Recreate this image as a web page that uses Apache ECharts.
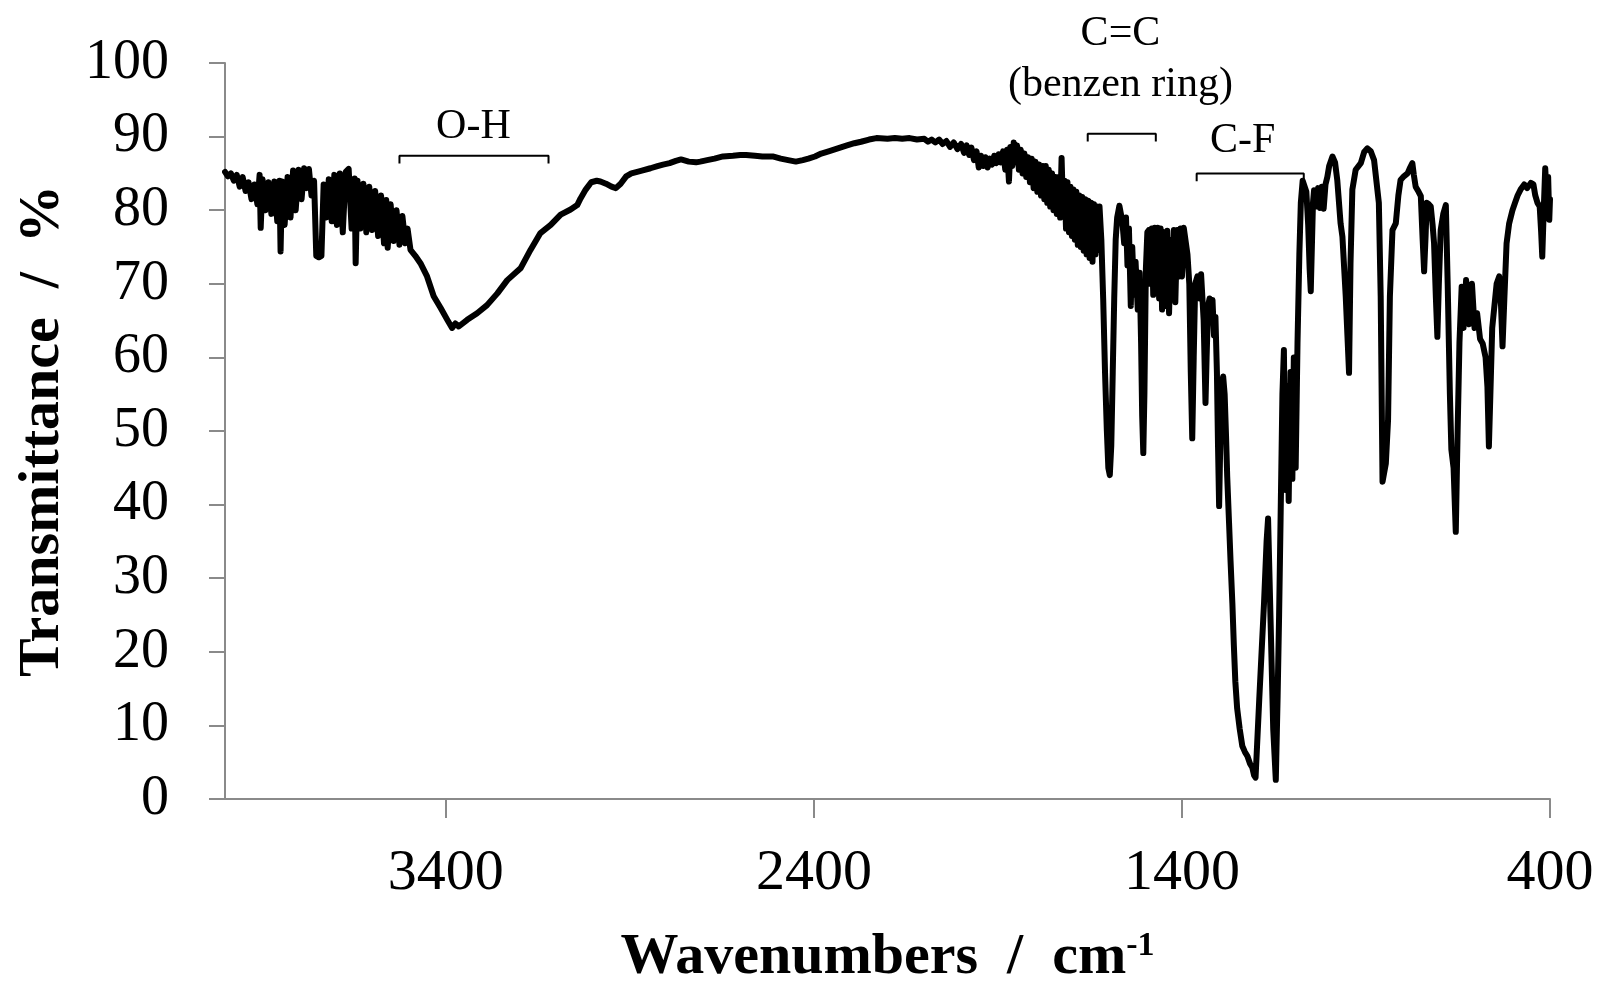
<!DOCTYPE html>
<html>
<head>
<meta charset="utf-8">
<title>FT-IR spectrum</title>
<script src="https://cdn.jsdelivr.net/npm/echarts@6/dist/echarts.min.js"></script>
<style>
  html, body { margin: 0; padding: 0; background: #fff; }
  #chart { width: 1600px; height: 981px; }
</style>
</head>
<body>
<div id="chart"></div>
<script>
  // spectrum, [wavenumber, transmittance %]
  var ohRegion = [
    [4000,85.2],[3992,84.6],[3984,85.0],[3976,84.0],[3968,84.8],[3960,83.2],[3952,84.5],[3944,82.6],
    [3936,83.8],[3928,81.5],[3920,83.5],[3912,80.8],[3906,84.8],[3903,77.6],[3898,84.2],[3890,80.0],
    [3882,83.8],[3874,79.5],[3866,83.9],[3858,78.5],[3852,84.0],[3849,74.4],[3845,83.9],[3838,78.0],
    [3830,84.5],[3822,79.0],[3815,85.4],[3808,80.0],[3800,85.5],[3792,81.5],[3785,85.7],[3778,83.0],
    [3772,85.6],[3765,82.0],[3758,84.0],[3752,73.8],[3745,73.6],[3738,73.8],[3732,83.5],[3725,79.0],
    [3718,84.2],[3710,78.5],[3703,84.8],[3696,78.0],[3688,85.0],[3680,77.0],[3672,85.2],[3664,85.6],
    [3656,77.5],[3648,84.3],[3645,72.8],[3640,84.0],[3632,77.5],[3624,83.6],[3616,77.0],[3608,83.2],
    [3600,77.3],[3592,82.6],[3584,76.5],[3576,82.0],[3568,75.5],[3562,81.4],[3558,74.9],[3550,80.8],
    [3542,75.8],[3534,80.0],[3526,75.3],[3518,79.2],[3510,75.5],[3504,77.5],[3496,74.6],[3483,73.8],
    [3469,72.8],[3451,71.0],[3433,68.3],[3414,66.7],[3396,65.1],[3383,64.0],[3374,64.6],[3365,64.2],
    [3342,65.1],[3315,66.0],[3288,67.1],[3260,68.7],[3233,70.5],[3197,72.1],[3170,74.6],[3143,76.9],
    [3115,78.0],[3088,79.4],[3061,80.1],[3043,80.7],[3034,81.6]
  ];
  var midRegion = [
    [3020,82.8],[3005,83.8],[2990,84.0],[2980,83.9],[2965,83.6],[2950,83.2],[2938,83.0],[2925,83.6],
    [2910,84.6],[2896,85.0],[2880,85.2],[2865,85.4],[2844,85.7],[2825,86.0],[2810,86.2],[2792,86.4],
    [2775,86.7],[2761,86.9],[2740,86.6],[2720,86.5],[2709,86.6],[2690,86.8],[2670,87.0],[2647,87.3],
    [2620,87.4],[2600,87.5],[2584,87.5],[2560,87.4],[2540,87.3],[2512,87.3],[2490,87.0],[2470,86.8],
    [2449,86.6],[2430,86.8],[2415,87.0],[2397,87.3],[2380,87.7],[2360,88.0],[2335,88.4],[2310,88.8],
    [2290,89.1],[2272,89.3],[2250,89.6],[2230,89.8],[2200,89.7],[2180,89.8],[2160,89.7],[2140,89.8],
    [2120,89.6],[2100,89.7],[2090,89.3],[2080,89.6],[2070,89.2],[2060,89.6],[2050,89.0],[2040,89.4],
    [2030,88.6],[2020,89.2],[2010,88.3],[2000,89.0],[1992,87.8],[1985,88.8],[1978,87.5],[1972,88.5],
    [1965,86.8],[1958,88.0],[1952,85.8],[1946,87.4],[1940,86.0],[1934,87.2],[1928,85.8],[1922,87.0],
    [1916,86.2],[1910,87.4],[1904,86.4],[1898,87.6],[1892,86.5],[1886,88.0],[1880,85.5],[1875,88.2],
    [1870,83.9],[1866,88.6],[1861,86.0],[1857,89.2],[1853,86.5],[1848,88.8],[1843,85.5],[1838,88.2],
    [1833,85.0],[1828,87.7],[1823,84.5],[1818,87.2],[1813,83.8],[1808,87.0],[1803,83.0],[1798,86.6],
    [1793,82.5],[1788,86.2],[1783,82.0],[1778,86.0],[1774,81.5]
  ];
  var fingerprintRegion = [
    [1770,86.0],[1766,81.0],[1762,85.5],[1758,80.5],[1753,85.0],[1749,80.0],[1744,84.5],[1740,79.5],
    [1735,84.5],[1731,79.0],[1727,87.1],[1723,80.0],[1719,84.0],[1715,77.5],[1711,83.8],[1707,77.0],
    [1703,83.2],[1699,76.5],[1695,82.8],[1691,76.0],[1687,82.5],[1683,75.3],[1679,82.0],[1675,75.0],
    [1671,81.8],[1667,74.5],[1663,81.5],[1659,74.0],[1655,81.3],[1651,73.5],[1647,81.0],[1643,73.0],
    [1639,80.8],[1635,74.0],[1631,80.5],[1627,74.6],[1624,80.5],[1619,76.0],[1614,68.0],[1609,58.0],
    [1604,50.0],[1600,45.0],[1596,44.0],[1592,48.0],[1588,58.0],[1584,68.0],[1580,76.0],[1576,79.0],
    [1570,80.6],[1566,80.7],[1562,78.5],[1557,75.5],[1552,79.0],[1548,72.5],[1544,77.5],[1539,67.0],
    [1535,75.0],[1530,68.5],[1526,73.0],[1520,66.5],[1515,71.5],[1511,62.0],[1508,52.0],[1505,47.0],
    [1502,55.0],[1498,72.0],[1494,77.0],[1490,77.3],[1486,70.0],[1482,77.5],[1478,68.5],[1474,77.6],
    [1470,69.5],[1466,77.6],[1462,68.0],[1458,77.5],[1454,66.5],[1449,77.0],[1445,67.0],[1440,77.2],
    [1435,66.0],[1430,76.0],[1426,69.0],[1422,77.3],[1418,67.5],[1413,77.3],[1408,71.0],[1404,77.5],
    [1400,71.0],[1395,77.6],[1390,77.6],[1385,74.0],[1380,70.0],[1376,58.0],[1372,49.0],[1368,60.0],
    [1364,70.0],[1358,71.0],[1352,68.0],[1348,71.3],[1345,71.5],[1341,65.0],[1336,53.8],[1333,60.0],
    [1329,67.0],[1325,68.0],[1320,66.0],[1317,67.8],[1313,63.0],[1309,65.5],[1305,58.0],[1302,48.0],
    [1299,39.8],[1296,48.0],[1292,56.0],[1288,57.4],[1284,55.0],[1280,49.0],[1277,43.8],[1272,37.5],
    [1268,32.4],[1263,26.6],[1259,20.9],[1255,16.0],[1250,12.3],[1243,9.5],[1236,7.2],[1229,6.4],
    [1222,5.8],[1215,4.8],[1209,4.3],[1204,3.2],[1200,2.9],[1190,13.5],[1177,26.6],[1170,35.0],
    [1166,38.1],[1159,23.8],[1152,9.5],[1145,2.6],[1140,14.0],[1136,25.0],[1132,38.1],[1127,55.0],
    [1123,61.0],[1119,42.0],[1114,56.0],[1110,40.5],[1105,58.0],[1100,43.5],[1096,60.0],[1091,45.0],
    [1086,62.0],[1081,74.0],[1077,81.0],[1072,84.0],[1068,83.8],[1062,82.5],[1057,78.0],[1053,72.0],
    [1050,69.0],[1047,75.0],[1044,81.0],[1041,82.7],[1035,80.5],[1030,83.0],[1025,80.3],[1020,83.2],
    [1015,80.2],[1010,83.5],[1005,84.5],[1000,86.0],[991,87.3],[984,86.5],[978,84.1],[969,78.2],
    [964,76.4],[955,68.3],[946,57.9],[942,72.8],[937,82.8],[928,85.5],[914,86.4],[905,87.9],
    [896,88.4],[887,88.0],[878,86.8],[865,81.0],[860,68.3],[855,43.1],[850,44.5],[846,45.6],
    [840,51.5],[835,68.3],[828,77.3],[819,78.2],[812,82.0],[806,84.1],[797,84.6],[787,85.0],
    [780,85.8],[774,86.4],[770,84.8],[765,83.2],[757,82.5],[751,81.9],[746,76.0],[742,71.7],
    [738,76.5],[735,81.0],[729,80.8],[724,80.5],[719,78.0],[715,75.5],[710,68.0],[706,62.8],
    [702,70.0],[697,77.3],[690,79.5],[683,80.7],[678,70.0],[672,55.0],[668,47.5],[662,45.0],
    [656,36.3],[651,50.0],[646,62.0],[640,69.6],[635,64.0],[628,70.5],[620,64.5],[612,70.0],
    [605,64.0],[598,66.0],[590,62.5],[583,61.9],[575,60.0],[570,56.0],[566,47.9],[562,55.0],
    [557,64.0],[552,66.5],[545,70.0],[538,71.0],[533,67.0],[529,61.5],[524,68.0],[518,75.5],
    [511,78.2],[502,80.0],[495,81.0],[488,82.0],[480,82.8],[470,83.5],[462,83.0],[452,83.7],
    [445,83.5],[440,82.0],[434,81.0],[428,80.5],[424,77.0],[421,73.7],[417,80.0],[413,85.7],
    [409,82.0],[405,84.5],[402,78.7],[400,81.5]
  ];

  var xTicks = [400, 1400, 2400, 3400];

  // band brackets: [from, to, level] in data units
  var bands = [
    { from: 3526, to: 3121, level: 87.4 },
    { from: 1656, to: 1471, level: 90.4 },
    { from: 1360, to: 1069, level: 85.0 }
  ];
  var bandLabels = [
    { name: 'O-H', wn: 3325, t: 91.3 },
    { name: 'C=C', wn: 1567, t: 104.0 },
    { name: '(benzen ring)', wn: 1567, t: 97.0 },
    { name: 'C-F', wn: 1235, t: 89.4 }
  ];

  var serif = '"Liberation Serif", "Times New Roman", serif';
  var axisGrey = '#8a8a8a';

  var spectrum = ohRegion.concat(midRegion, fingerprintRegion);

  var bracketSeries = bands.map(function (b) {
    return {
      type: 'line',
      data: [[b.from, b.level - 1.05], [b.from, b.level], [b.to, b.level], [b.to, b.level - 1.05]],
      showSymbol: false,
      silent: true,
      lineStyle: { color: '#000', width: 2 },
      z: 4
    };
  });

  var chart = echarts.init(document.getElementById('chart'));
  chart.setOption({
    animation: false,
    backgroundColor: '#fff',
    grid: { left: 225, right: 50, top: 63, bottom: 182, outerBoundsMode: 'none', containLabel: false },
    xAxis: {
      type: 'value',
      min: 400,
      max: 4000,
      inverse: true,
      name: 'Wavenumbers  /  cm{sup|-1}',
      nameLocation: 'middle',
      nameGap: 130,
      nameMoveOverlap: false,
      nameTextStyle: {
        fontFamily: serif, fontSize: 58, fontWeight: 'bold', color: '#000',
        rich: { sup: { fontFamily: serif, fontSize: 34, fontWeight: 'bold', color: '#000', verticalAlign: 'top', padding: [0, 0, 22, 0] } }
      },
      axisLine: { onZero: false, lineStyle: { color: axisGrey, width: 2 } },
      axisTick: { customValues: xTicks, length: 19, lineStyle: { color: axisGrey, width: 2 } },
      axisLabel: {
        customValues: xTicks, fontFamily: serif, fontSize: 58, color: '#000', margin: 46,
        formatter: function (v) { return String(v); }
      },
      splitLine: { show: false }
    },
    yAxis: {
      type: 'value',
      min: 0,
      max: 100,
      interval: 10,
      name: 'Transmittance  /  %',
      nameLocation: 'middle',
      nameGap: 153,
      nameMoveOverlap: false,
      nameTextStyle: { fontFamily: serif, fontSize: 58, fontWeight: 'bold', color: '#000' },
      axisLine: { show: true, onZero: false, lineStyle: { color: axisGrey, width: 2 } },
      axisTick: { show: true, length: 16, lineStyle: { color: axisGrey, width: 2 } },
      axisLabel: { fontFamily: serif, fontSize: 56, color: '#000', margin: 56 },
      splitLine: { show: false }
    },
    series: [
      {
        type: 'line',
        data: spectrum,
        showSymbol: false,
        silent: true,
        lineStyle: { color: '#000', width: 6, join: 'round', cap: 'round' },
        z: 3
      }
    ].concat(bracketSeries, [{
      type: 'scatter',
      symbolSize: 0,
      clip: false,
      silent: true,
      itemStyle: { opacity: 1 },
      data: bandLabels.map(function (l) { return { name: l.name, value: [l.wn, l.t] }; }),
      label: {
        show: true,
        position: 'inside',
        formatter: '{b}',
        fontFamily: serif,
        fontSize: 42,
        color: '#000'
      },
      z: 5
    }])
  });
</script>
</body>
</html>
